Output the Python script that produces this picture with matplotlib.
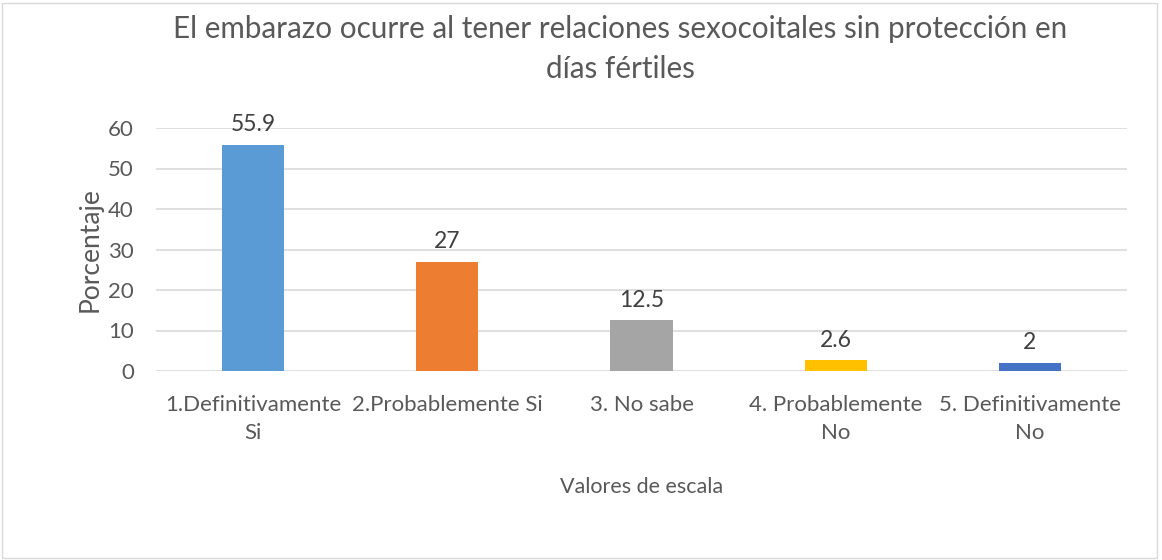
import matplotlib.pyplot as plt
from matplotlib.patches import Rectangle

categories = ['1.Definitivamente\nSi', '2.Probablemente Si', '3. No sabe',
              '4. Probablemente\nNo', '5. Definitivamente\nNo']
values = [55.9, 27, 12.5, 2.6, 2]
value_labels = ['55.9', '27', '12.5', '2.6', '2']
colors = ['#5B9BD5', '#ED7D31', '#A5A5A5', '#FFC000', '#4472C4']

text_color = '#595959'
plt.rcParams['font.family'] = ['Lato', 'DejaVu Sans']

fig = plt.figure(figsize=(11.62, 5.6), dpi=100)
ax = fig.add_axes([156 / 1162, 1 - 371 / 560, (1127 - 156) / 1162, (371 - 128) / 560])

x = range(len(categories))
ax.bar(x, values, width=0.32, color=colors, zorder=3)
for xi, v, lab in zip(x, values, value_labels):
    ax.annotate(lab, (xi, v), xytext=(0, 7), textcoords='offset points',
                ha='center', va='bottom', fontsize=16.5, color='#404040')

ax.set_xlim(-0.5, len(categories) - 0.5)
ax.set_ylim(0, 60)
ax.set_yticks(range(0, 61, 10))
ax.set_xticks(list(x))
ax.set_xticklabels(categories, linespacing=1.55)
ax.grid(axis='y', color='#D9D9D9', linewidth=1.2, zorder=0)
for s in ax.spines.values():
    s.set_visible(False)
ax.tick_params(axis='both', length=0, labelsize=16, labelcolor=text_color)
ax.tick_params(axis='x', pad=17)
ax.tick_params(axis='y', pad=16)

ax.set_ylabel('Porcentaje', fontsize=19, color=text_color, labelpad=4)
ax.set_xlabel('Valores de escala', fontsize=15.5, color=text_color, labelpad=24)

fig.text(620 / 1162, 1 - 49 / 560, 'El embarazo ocurre al tener relaciones sexocoitales sin protección en\ndías fértiles',
         ha='center', va='center', fontsize=21.3, color=text_color, linespacing=1.55)

fig.patches.append(Rectangle((2 / 1162, 2 / 560), 1155 / 1162, 555 / 560, transform=fig.transFigure,
                             fill=False, edgecolor='#D9D9D9', linewidth=1))

fig.savefig('out.png', dpi=100, facecolor='white')
